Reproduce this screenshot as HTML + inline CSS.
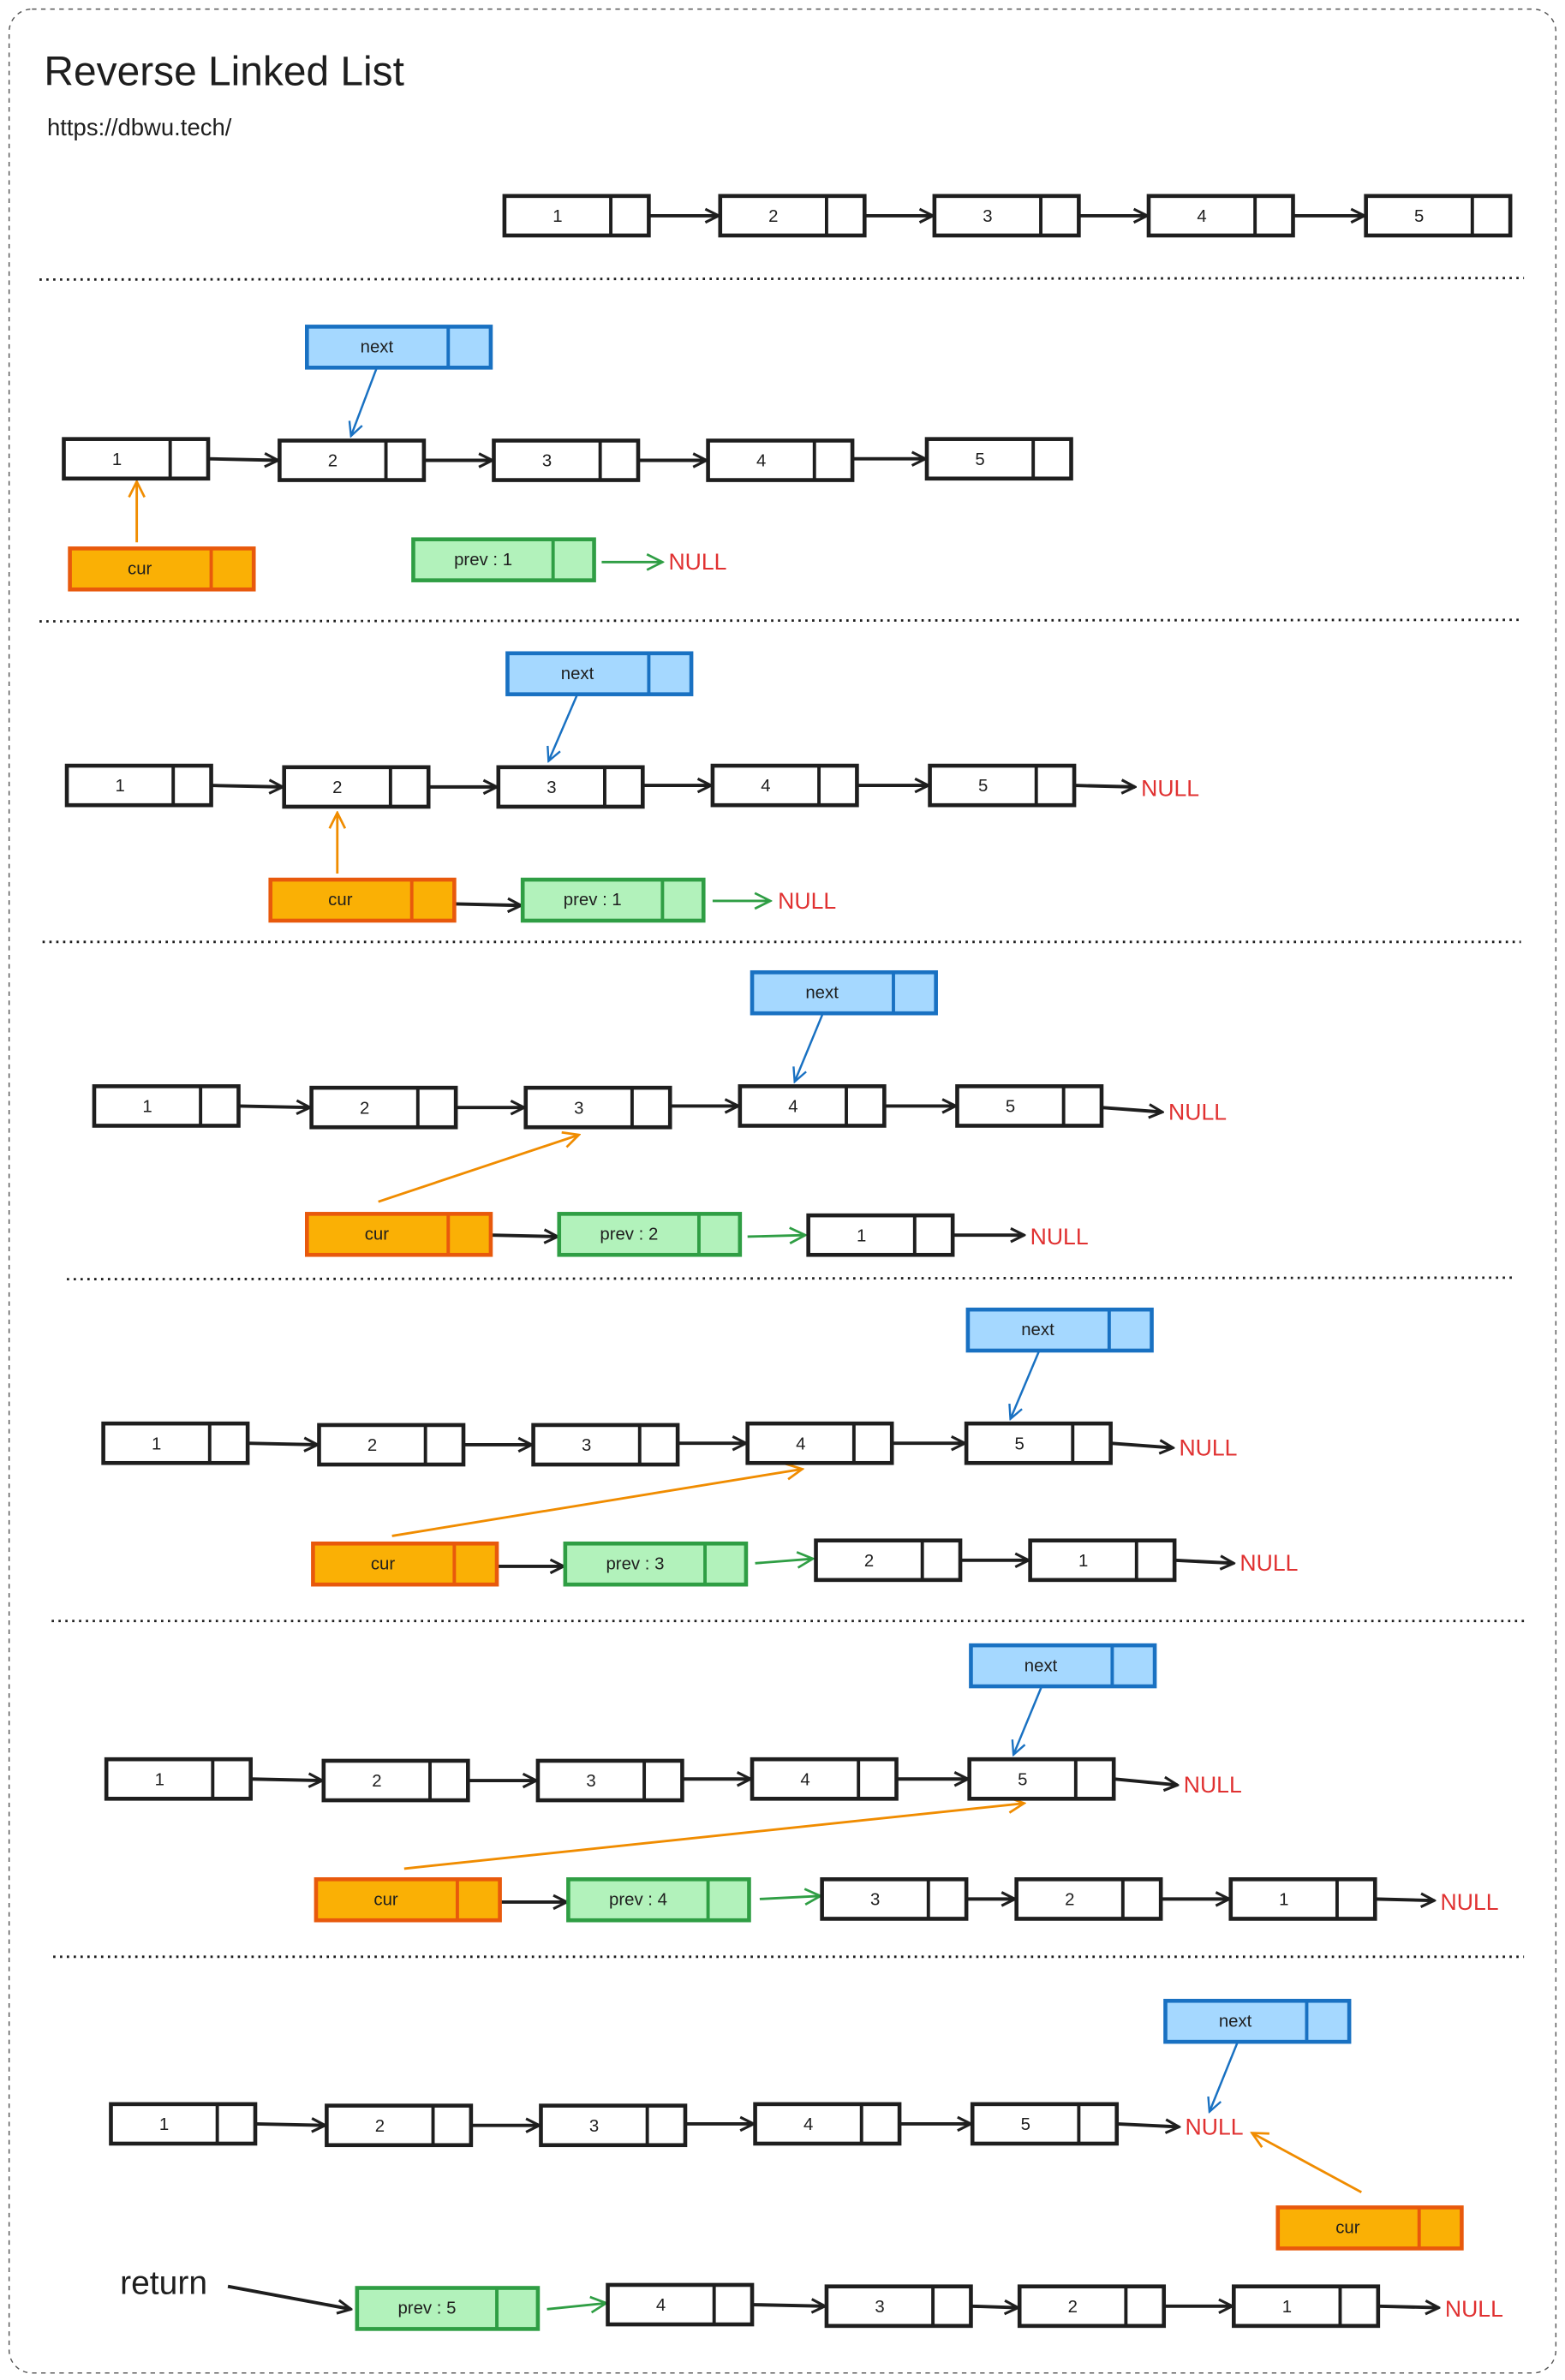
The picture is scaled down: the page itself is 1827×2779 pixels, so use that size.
<!DOCTYPE html>
<html><head><meta charset="utf-8"><style>
html,body{margin:0;padding:0;background:#fff}
svg{display:block}
.t{font-family:"Liberation Sans",sans-serif;font-size:11.5px;fill:#1e1e1e;text-anchor:middle}
.nl{font-family:"Liberation Sans",sans-serif;font-size:15px;fill:#e03131}
</style></head><body>
<svg width="1827" height="2779" viewBox="0 0 1030 1566.6" preserveAspectRatio="none" xmlns="http://www.w3.org/2000/svg">
<defs>
<g id="n"><rect x="0" y="0" width="95" height="26" fill="#fff" stroke="#1e1e1e" stroke-width="2.6"/><line x1="70" y1="0" x2="70" y2="26" stroke="#1e1e1e" stroke-width="2.2"/></g>
<g id="nb"><rect x="0" y="0" width="121" height="27" fill="#a5d8ff" stroke="#1971c2" stroke-width="2.6"/><line x1="93" y1="0" x2="93" y2="27" stroke="#1971c2" stroke-width="2.2"/></g>
<g id="no"><rect x="0" y="0" width="121" height="27" fill="#fab005" stroke="#e8590c" stroke-width="2.6"/><line x1="93" y1="0" x2="93" y2="27" stroke="#e8590c" stroke-width="2.2"/></g>
<g id="ng"><rect x="0" y="0" width="119" height="27" fill="#b2f2bb" stroke="#2f9e44" stroke-width="2.6"/><line x1="92" y1="0" x2="92" y2="27" stroke="#2f9e44" stroke-width="2.2"/></g>
<marker id="ak" viewBox="0 0 10 10" refX="9" refY="5" markerWidth="5" markerHeight="5" orient="auto" markerUnits="strokeWidth"><path d="M1,1 L9,5 L1,9" fill="none" stroke="#1e1e1e" stroke-width="1.6"/></marker>
<marker id="ab" viewBox="0 0 10 10" refX="9" refY="5" markerWidth="8" markerHeight="8" orient="auto" markerUnits="strokeWidth"><path d="M1,1 L9,5 L1,9" fill="none" stroke="#1971c2" stroke-width="1.2"/></marker>
<marker id="ao" viewBox="0 0 10 10" refX="9" refY="5" markerWidth="8" markerHeight="8" orient="auto" markerUnits="strokeWidth"><path d="M1,1 L9,5 L1,9" fill="none" stroke="#f08c00" stroke-width="1.2"/></marker>
<marker id="ag" viewBox="0 0 10 10" refX="9" refY="5" markerWidth="8" markerHeight="8" orient="auto" markerUnits="strokeWidth"><path d="M1,1 L9,5 L1,9" fill="none" stroke="#2f9e44" stroke-width="1.2"/></marker>
</defs>
<rect x="6" y="6" width="1018" height="1556" rx="15" fill="none" stroke="#555" stroke-width="0.8" stroke-dasharray="3,3"/>
<text x="29" y="56" font-family="Liberation Sans,sans-serif" font-size="27" fill="#1e1e1e">Reverse Linked List</text>
<text x="31" y="89" font-family="Liberation Sans,sans-serif" font-size="15.5" fill="#1e1e1e">https://dbwu.tech/</text>
<g stroke="#1e1e1e" stroke-width="1.6" stroke-dasharray="1.5,3">
<line x1="26" y1="184" x2="1003" y2="183"/><line x1="26" y1="409" x2="1000" y2="408"/><line x1="28" y1="620" x2="1001" y2="620"/><line x1="44" y1="842" x2="996" y2="841"/><line x1="34" y1="1067" x2="1006" y2="1067"/><line x1="35" y1="1288" x2="1003" y2="1288"/>
</g>
<g stroke="#1e1e1e" stroke-width="2.2" fill="none" marker-end="url(#ak)">
<line x1="427" y1="142" x2="473" y2="142"/><line x1="569" y1="142" x2="614" y2="142"/><line x1="710" y1="142" x2="755" y2="142"/><line x1="851" y1="142" x2="898" y2="142"/>
<line x1="137" y1="302" x2="183" y2="303"/><line x1="279" y1="303" x2="324" y2="303"/><line x1="420" y1="303" x2="465" y2="303"/><line x1="561" y1="302" x2="609" y2="302"/>
<line x1="139" y1="517" x2="186" y2="518"/><line x1="282" y1="518" x2="327" y2="518"/><line x1="423" y1="517" x2="468" y2="517"/><line x1="564" y1="517" x2="611" y2="517"/><line x1="707" y1="517" x2="747" y2="518"/><line x1="300" y1="595" x2="343" y2="596"/>
<line x1="157" y1="728" x2="204" y2="729"/><line x1="300" y1="729" x2="345" y2="729"/><line x1="441" y1="728" x2="486" y2="728"/><line x1="582" y1="728" x2="629" y2="728"/><line x1="725" y1="729" x2="765" y2="732"/><line x1="324" y1="813" x2="367" y2="814"/><line x1="627" y1="813" x2="674" y2="813"/>
<line x1="163" y1="950" x2="209" y2="951"/><line x1="305" y1="951" x2="350" y2="951"/><line x1="446" y1="950" x2="491" y2="950"/><line x1="587" y1="950" x2="635" y2="950"/><line x1="731" y1="950" x2="772" y2="953"/><line x1="328" y1="1031" x2="371" y2="1031"/><line x1="632" y1="1027" x2="677" y2="1027"/><line x1="773" y1="1027" x2="812" y2="1029"/>
<line x1="165" y1="1171" x2="212" y2="1172"/><line x1="308" y1="1172" x2="353" y2="1172"/><line x1="449" y1="1171" x2="494" y2="1171"/><line x1="590" y1="1171" x2="637" y2="1171"/><line x1="733" y1="1171" x2="775" y2="1175"/><line x1="330" y1="1252" x2="373" y2="1252"/><line x1="636" y1="1250" x2="668" y2="1250"/><line x1="764" y1="1250" x2="809" y2="1250"/><line x1="905" y1="1250" x2="944" y2="1251"/>
<line x1="168" y1="1398" x2="214" y2="1399"/><line x1="310" y1="1399" x2="355" y2="1399"/><line x1="451" y1="1398" x2="496" y2="1398"/><line x1="592" y1="1398" x2="639" y2="1398"/><line x1="735" y1="1398" x2="776" y2="1400"/>
<line x1="150" y1="1505" x2="231" y2="1520"/><line x1="495" y1="1517" x2="543" y2="1518"/><line x1="639" y1="1518" x2="670" y2="1519"/><line x1="766" y1="1518" x2="811" y2="1518"/><line x1="907" y1="1518" x2="947" y2="1519"/>
</g>
<g stroke="#1971c2" stroke-width="1.4" fill="none" marker-end="url(#ab)">
<line x1="248" y1="242" x2="231" y2="287"/><line x1="380" y1="457" x2="361" y2="501"/><line x1="542" y1="666" x2="523" y2="712"/><line x1="684" y1="889" x2="665" y2="934"/><line x1="686" y1="1109" x2="667" y2="1155"/><line x1="815" y1="1343" x2="796" y2="1390"/>
</g>
<g stroke="#f08c00" stroke-width="1.6" fill="none" marker-end="url(#ao)">
<line x1="90" y1="357" x2="90" y2="317"/><line x1="222" y1="575" x2="222" y2="535"/><line x1="249" y1="791" x2="381" y2="747"/><line x1="258" y1="1011" x2="528" y2="967"/><line x1="266" y1="1230" x2="674" y2="1187"/><line x1="896" y1="1443" x2="824" y2="1404"/>
</g>
<g stroke="#2f9e44" stroke-width="1.6" fill="none" marker-end="url(#ag)">
<line x1="396" y1="370" x2="436" y2="370"/><line x1="469" y1="593" x2="507" y2="593"/><line x1="492" y1="814" x2="530" y2="813"/><line x1="497" y1="1029" x2="535" y2="1026"/><line x1="500" y1="1250" x2="540" y2="1248"/><line x1="360" y1="1520" x2="399" y2="1516"/>
</g>
<g transform="translate(332,129)"><use href="#n"/><text class="t" x="35" y="17">1</text></g>
<g transform="translate(474,129)"><use href="#n"/><text class="t" x="35" y="17">2</text></g>
<g transform="translate(615,129)"><use href="#n"/><text class="t" x="35" y="17">3</text></g>
<g transform="translate(756,129)"><use href="#n"/><text class="t" x="35" y="17">4</text></g>
<g transform="translate(899,129)"><use href="#n"/><text class="t" x="35" y="17">5</text></g>
<g transform="translate(42,289)"><use href="#n"/><text class="t" x="35" y="17">1</text></g>
<g transform="translate(184,290)"><use href="#n"/><text class="t" x="35" y="17">2</text></g>
<g transform="translate(325,290)"><use href="#n"/><text class="t" x="35" y="17">3</text></g>
<g transform="translate(466,290)"><use href="#n"/><text class="t" x="35" y="17">4</text></g>
<g transform="translate(610,289)"><use href="#n"/><text class="t" x="35" y="17">5</text></g>
<g transform="translate(202,215)"><use href="#nb"/><text class="t" x="46" y="17">next</text></g>
<g transform="translate(46,361)"><use href="#no"/><text class="t" x="46" y="17">cur</text></g>
<g transform="translate(272,355)"><use href="#ng"/><text class="t" x="46" y="17">prev : 1</text></g>
<text class="nl" x="440" y="375">NULL</text>
<g transform="translate(44,504)"><use href="#n"/><text class="t" x="35" y="17">1</text></g>
<g transform="translate(187,505)"><use href="#n"/><text class="t" x="35" y="17">2</text></g>
<g transform="translate(328,505)"><use href="#n"/><text class="t" x="35" y="17">3</text></g>
<g transform="translate(469,504)"><use href="#n"/><text class="t" x="35" y="17">4</text></g>
<g transform="translate(612,504)"><use href="#n"/><text class="t" x="35" y="17">5</text></g>
<text class="nl" x="751" y="524">NULL</text>
<g transform="translate(334,430)"><use href="#nb"/><text class="t" x="46" y="17">next</text></g>
<g transform="translate(178,579)"><use href="#no"/><text class="t" x="46" y="17">cur</text></g>
<g transform="translate(344,579)"><use href="#ng"/><text class="t" x="46" y="17">prev : 1</text></g>
<text class="nl" x="512" y="598">NULL</text>
<g transform="translate(62,715)"><use href="#n"/><text class="t" x="35" y="17">1</text></g>
<g transform="translate(205,716)"><use href="#n"/><text class="t" x="35" y="17">2</text></g>
<g transform="translate(346,716)"><use href="#n"/><text class="t" x="35" y="17">3</text></g>
<g transform="translate(487,715)"><use href="#n"/><text class="t" x="35" y="17">4</text></g>
<g transform="translate(630,715)"><use href="#n"/><text class="t" x="35" y="17">5</text></g>
<text class="nl" x="769" y="737">NULL</text>
<g transform="translate(495,640)"><use href="#nb"/><text class="t" x="46" y="17">next</text></g>
<g transform="translate(202,799)"><use href="#no"/><text class="t" x="46" y="17">cur</text></g>
<g transform="translate(368,799)"><use href="#ng"/><text class="t" x="46" y="17">prev : 2</text></g>
<g transform="translate(532,800)"><use href="#n"/><text class="t" x="35" y="17">1</text></g>
<text class="nl" x="678" y="819">NULL</text>
<g transform="translate(68,937)"><use href="#n"/><text class="t" x="35" y="17">1</text></g>
<g transform="translate(210,938)"><use href="#n"/><text class="t" x="35" y="17">2</text></g>
<g transform="translate(351,938)"><use href="#n"/><text class="t" x="35" y="17">3</text></g>
<g transform="translate(492,937)"><use href="#n"/><text class="t" x="35" y="17">4</text></g>
<g transform="translate(636,937)"><use href="#n"/><text class="t" x="35" y="17">5</text></g>
<text class="nl" x="776" y="958">NULL</text>
<g transform="translate(637,862)"><use href="#nb"/><text class="t" x="46" y="17">next</text></g>
<g transform="translate(206,1016)"><use href="#no"/><text class="t" x="46" y="17">cur</text></g>
<g transform="translate(372,1016)"><use href="#ng"/><text class="t" x="46" y="17">prev : 3</text></g>
<g transform="translate(537,1014)"><use href="#n"/><text class="t" x="35" y="17">2</text></g>
<g transform="translate(678,1014)"><use href="#n"/><text class="t" x="35" y="17">1</text></g>
<text class="nl" x="816" y="1034">NULL</text>
<g transform="translate(70,1158)"><use href="#n"/><text class="t" x="35" y="17">1</text></g>
<g transform="translate(213,1159)"><use href="#n"/><text class="t" x="35" y="17">2</text></g>
<g transform="translate(354,1159)"><use href="#n"/><text class="t" x="35" y="17">3</text></g>
<g transform="translate(495,1158)"><use href="#n"/><text class="t" x="35" y="17">4</text></g>
<g transform="translate(638,1158)"><use href="#n"/><text class="t" x="35" y="17">5</text></g>
<text class="nl" x="779" y="1180">NULL</text>
<g transform="translate(639,1083)"><use href="#nb"/><text class="t" x="46" y="17">next</text></g>
<g transform="translate(208,1237)"><use href="#no"/><text class="t" x="46" y="17">cur</text></g>
<g transform="translate(374,1237)"><use href="#ng"/><text class="t" x="46" y="17">prev : 4</text></g>
<g transform="translate(541,1237)"><use href="#n"/><text class="t" x="35" y="17">3</text></g>
<g transform="translate(669,1237)"><use href="#n"/><text class="t" x="35" y="17">2</text></g>
<g transform="translate(810,1237)"><use href="#n"/><text class="t" x="35" y="17">1</text></g>
<text class="nl" x="948" y="1257">NULL</text>
<g transform="translate(73,1385)"><use href="#n"/><text class="t" x="35" y="17">1</text></g>
<g transform="translate(215,1386)"><use href="#n"/><text class="t" x="35" y="17">2</text></g>
<g transform="translate(356,1386)"><use href="#n"/><text class="t" x="35" y="17">3</text></g>
<g transform="translate(497,1385)"><use href="#n"/><text class="t" x="35" y="17">4</text></g>
<g transform="translate(640,1385)"><use href="#n"/><text class="t" x="35" y="17">5</text></g>
<text class="nl" x="780" y="1405">NULL</text>
<g transform="translate(767,1317)"><use href="#nb"/><text class="t" x="46" y="17">next</text></g>
<g transform="translate(841,1453)"><use href="#no"/><text class="t" x="46" y="17">cur</text></g>
<text x="79" y="1510" font-family="Liberation Sans,sans-serif" font-size="22" fill="#1e1e1e">return</text>
<g transform="translate(235,1506)"><use href="#ng"/><text class="t" x="46" y="17">prev : 5</text></g>
<g transform="translate(400,1504)"><use href="#n"/><text class="t" x="35" y="17">4</text></g>
<g transform="translate(544,1505)"><use href="#n"/><text class="t" x="35" y="17">3</text></g>
<g transform="translate(671,1505)"><use href="#n"/><text class="t" x="35" y="17">2</text></g>
<g transform="translate(812,1505)"><use href="#n"/><text class="t" x="35" y="17">1</text></g>
<text class="nl" x="951" y="1525">NULL</text>
</svg>
</body></html>
